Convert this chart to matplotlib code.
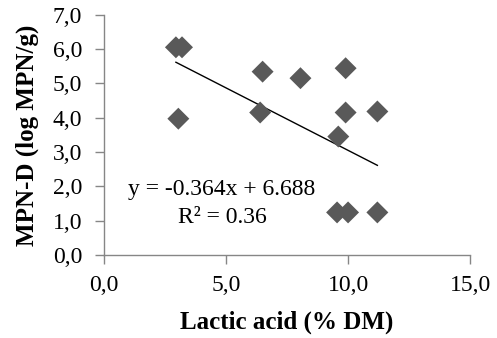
import numpy as np
import matplotlib.pyplot as plt

plt.rcParams['font.family'] = 'Liberation Serif'

# dati: acido lattico (% SS) e MPN-D (log MPN/g)
lactic = [2.95, 3.2, 3.05, 6.5, 8.05, 9.9, 6.4, 9.9, 11.2, 9.6, 9.55, 10.0, 11.2]
mpn = [6.05, 6.05, 3.97, 5.34, 5.15, 5.44, 4.15, 4.15, 4.18, 3.45, 1.24, 1.24, 1.24]

# retta di regressione riportata
slope = -0.364
intercept = 6.688
r2 = 0.36

fig = plt.figure(figsize=(4.97, 3.38), dpi=100)
ax = fig.add_axes([0.209, 0.2456, 0.737, 0.711])

ax.scatter(lactic, mpn, marker='D', s=125, color='#595959', edgecolors='none', zorder=3)

xl = np.array([min(lactic), max(lactic)])
ax.plot(xl, slope * xl + intercept, color='black', lw=1.0, zorder=2)

ax.text(4.84, 1.9, f"y = {slope:.3f}x + {intercept:.3f}", fontsize=17, va='center', ha='center')
ax.text(4.84, 1.08, f"R² = {r2:.2f}", fontsize=17, va='center', ha='center')

ax.set_xlim(0, 15)
ax.set_ylim(0, 7)
ax.set_xticks([0, 5, 10, 15])
ax.set_yticks(np.arange(0, 8, 1))
ax.set_xticklabels([f"{v:.1f}".replace('.', ',') for v in [0, 5, 10, 15]])
ax.set_yticklabels([f"{v:.1f}".replace('.', ',') for v in range(8)])

for s in ['top', 'right']:
    ax.spines[s].set_visible(False)
for s in ['left', 'bottom']:
    ax.spines[s].set_color('#868686')
    ax.spines[s].set_linewidth(1.0)
ax.tick_params(axis='both', direction='out', length=6.5, width=1.0, color='#868686',
               labelsize=17)
ax.tick_params(axis='y', pad=9)
ax.tick_params(axis='x', pad=8)

ax.set_xlabel("Lactic acid (% DM)", fontsize=18, fontweight='bold')
ax.set_ylabel("MPN-D (log MPN/g)", fontsize=18, fontweight='bold')
ax.xaxis.label.set_va('center')
ax.yaxis.label.set_va('center')
ax.xaxis.set_label_coords(0.5, -0.279)
ax.yaxis.set_label_coords(-0.21, 0.5)

fig.savefig("out.png", dpi=100)
